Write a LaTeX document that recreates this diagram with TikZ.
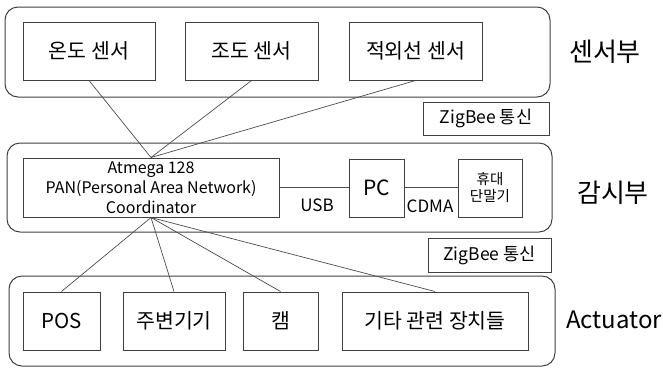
\documentclass[tikz,border=0pt]{standalone}
\usepackage{fontspec}
\setmainfont{Noto Sans CJK KR}
\begin{document}
\begin{tikzpicture}[x=1pt,y=-1pt,
  grp/.style={draw=black!75,line width=1pt,rounded corners=13pt},
  bx/.style={draw=black!75,line width=1pt,inner sep=0pt,align=center},
  ln/.style={draw=black!70,line width=0.7pt},
  big/.style={font=\fontsize{26}{30}\selectfont},
  mid/.style={font=\fontsize{20.5}{24}\selectfont},
  zig/.style={font=\fontsize{17.5}{20}\selectfont},
  sml/.style={font=\fontsize{16}{20}\selectfont}]
\useasboundingbox (0,0) rectangle (663,368);
% groups
\draw[grp] (5,7) rectangle (550,97);
\draw[grp] (7,143) rectangle (552,232);
\draw[grp] (9,276) rectangle (555,366);
% sensors
\node[bx,mid,minimum width=132pt,minimum height=58pt] (s1) at (89,51) {온도 센서};
\node[bx,mid,minimum width=133pt,minimum height=58pt] (s2) at (251.5,51) {조도 센서};
\node[bx,mid,minimum width=133pt,minimum height=58pt] (s3) at (415.5,51) {적외선 센서};
\node[big] (l1) at (605,52) {센서부};
\node[bx,zig,minimum width=126pt,minimum height=33pt] (z1) at (486,118.5) {ZigBee 통신};
% monitoring
\node[bx,sml,minimum width=256pt,minimum height=59pt] (at) at (151,187.5) {Atmega 128\\PAN(Personal Area Network)\\Coordinator};
\node[bx,font=\fontsize{21}{24}\selectfont,minimum width=55pt,minimum height=58pt] (pc) at (376.5,188) {PC};
\node[bx,font=\fontsize{14.5}{17}\selectfont,minimum width=64pt,minimum height=58pt] (ph) at (490,188) {휴대\\단말기};
\node[big] (l2) at (613,193) {감시부};
\node[bx,zig,minimum width=123pt,minimum height=34pt] (z2) at (489.5,255) {ZigBee 통신};
\node[font=\fontsize{17}{20}\selectfont] (usb) at (317,205) {USB};
\node[font=\fontsize{17}{20}\selectfont] (cdma) at (430,206) {CDMA};
% actuators
\node[bx,mid,minimum width=77pt,minimum height=58pt] (a1) at (61.5,321) {POS};
\node[bx,mid,minimum width=102pt,minimum height=58pt] (a2) at (174,321) {주변기기};
\node[bx,mid,minimum width=75pt,minimum height=58pt] (a3) at (280.5,321) {캠};
\node[bx,mid,minimum width=186pt,minimum height=58pt] (a4) at (435,321) {기타 관련 장치들};
\node[font=\fontsize{24}{28}\selectfont] (l3) at (614,320) {Actuator};
% connectors
\draw[ln] (s1.south) -- (at.north);
\draw[ln] (s2.south) -- (at.north);
\draw[ln] (s3.south) -- (at.north);
\draw[ln] (at.east) -- (pc.west |- at.east);
\draw[ln] (pc.east |- at.east) -- (ph.west |- at.east);
\draw[ln] (at.south) -- (a1.north);
\draw[ln] (at.south) -- (a2.north);
\draw[ln] (at.south) -- (a3.north);
\draw[ln] (at.south) -- (a4.north);
\end{tikzpicture}
\end{document}
